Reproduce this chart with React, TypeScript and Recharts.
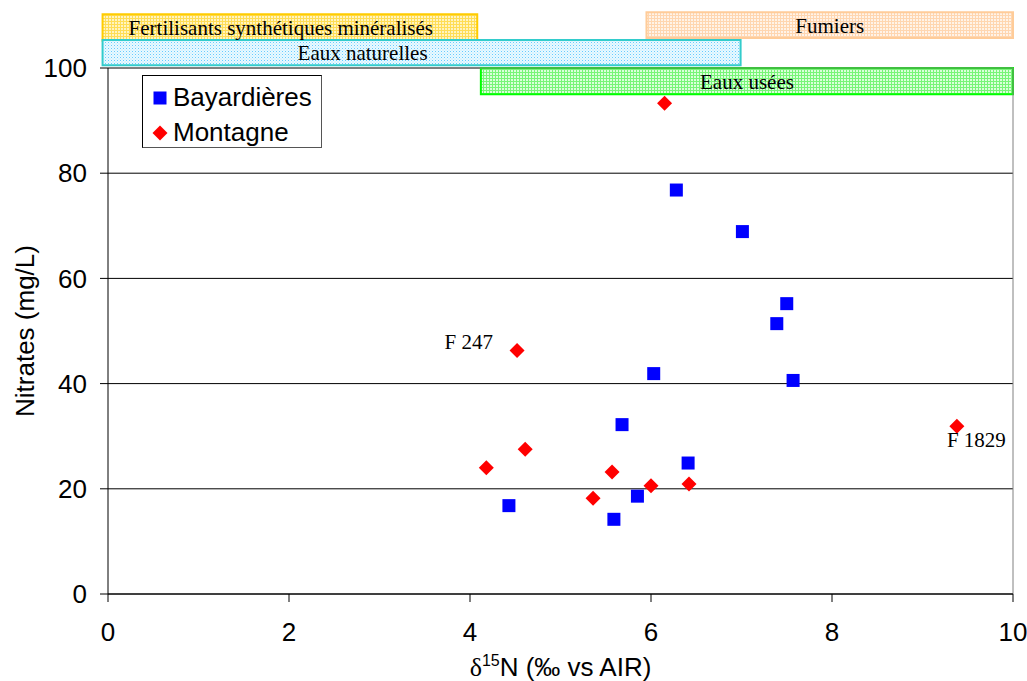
import React from 'react';
import {
  ScatterChart,
  Scatter,
  XAxis,
  YAxis,
  CartesianGrid,
  ReferenceArea,
  ReferenceLine,
  Legend,
  LabelList,
} from 'recharts';

// ---- data ----
const bayardieresX = [6.28, 7.01, 7.5, 7.39, 6.03, 7.57, 5.68, 6.41, 5.85, 4.43, 5.59];
const bayardieresY = [76.8, 68.9, 55.2, 51.4, 41.9, 40.6, 32.2, 24.9, 18.6, 16.8, 14.2];
const montagneX = [6.15, 4.52, 4.61, 4.18, 5.57, 6.0, 6.42, 5.36, 9.38];
const montagneY = [93.3, 46.3, 27.5, 24.0, 23.2, 20.6, 20.9, 18.2, 31.9];
const montagneLabels = ['', 'F 247', '', '', '', '', '', '', 'F 1829'];

const xTicks = [0, 2, 4, 6, 8, 10];
const yTicks = [0, 20, 40, 60, 80, 100];

const zoneNames = ['Fertilisants synthétiques minéralisés', 'Eaux naturelles', 'Fumiers', 'Eaux usées'];
const zoneX1 = [-0.06, -0.06, 5.95, 4.12];
const zoneX2 = [4.08, 6.99, 10.0, 10.0];
const zoneY1 = [105.2, 100.5, 105.7, 95.0];
const zoneY2 = [110.2, 105.3, 110.6, 100.0];

const bayData = bayardieresX.map((x, i) => ({ x, y: bayardieresY[i] }));
const monData = montagneX.map((x, i) => ({ x, y: montagneY[i], label: montagneLabels[i] }));

// ---- styles ----
const SANS = 'Arial, "Liberation Sans", sans-serif';
const SERIF = '"Times New Roman", "Liberation Serif", serif';

const zoneStyles = [
  { stroke: '#FFCC00', fill: 'url(#pFert)', labelPos: 'insideLeft', labelOffset: 26 },
  { stroke: '#33CCCC', fill: 'url(#pNat)', labelPos: 'insideLeft', labelOffset: 195 },
  { stroke: '#FFCC99', fill: 'url(#pFum)', labelPos: 'center', labelOffset: 0 },
  { stroke: '#00FF00', fill: 'url(#pUse)', labelPos: 'center', labelOffset: 0 },
];

const SquareShape = (props: any) => {
  const { cx, cy } = props;
  if (cx == null || cy == null) return null;
  const s = 13;
  return <rect x={cx - s / 2} y={cy - s / 2} width={s} height={s} fill="#0000FF" />;
};

const DiamondShape = (props: any) => {
  const { cx, cy } = props;
  if (cx == null || cy == null) return null;
  const r = 7.5;
  return (
    <polygon
      points={`${cx},${cy - r} ${cx + r},${cy} ${cx},${cy + r} ${cx - r},${cy}`}
      fill="#FF0000"
    />
  );
};

const AnnotationLabel = (props: any) => {
  const { x, y, width, height, value } = props;
  if (!value) return null;
  const cx = x + (width || 0) / 2;
  const cy = y + (height || 0) / 2;
  if (value === 'F 247') {
    return (
      <text x={cx - 24} y={cy - 1} textAnchor="end" fontFamily={SERIF} fontSize={21} fill="#000">
        {value}
      </text>
    );
  }
  return (
    <text x={cx - 10} y={cy + 21} textAnchor="start" fontFamily={SERIF} fontSize={21} fill="#000">
      {value}
    </text>
  );
};

const LegendContent = (props: any) => {
  const { payload } = props;
  return (
    <div
      style={{
        width: 180,
        height: 73,
        boxSizing: 'border-box',
        border: '1px solid #000',
        borderRightColor: '#555',
        borderBottomColor: '#555',
        background: '#fff',
        paddingTop: 4,
        fontFamily: SANS,
        fontSize: 26,
        color: '#000',
      }}
    >
      {(payload || []).map((entry: any, i: number) => (
        <div
          key={i}
          style={{ display: 'flex', alignItems: 'center', height: 35, lineHeight: '35px', paddingLeft: 9 }}
        >
          <svg width={16} height={16} style={{ marginRight: 5, flex: 'none' }}>
            {i === 0 ? (
              <rect x={1.5} y={1.5} width={13} height={13} fill="#0000FF" />
            ) : (
              <polygon points="8,0.5 15.5,8 8,15.5 0.5,8" fill="#FF0000" />
            )}
          </svg>
          <span>{entry.value}</span>
        </div>
      ))}
    </div>
  );
};

const YLabel = (props: any) => {
  const { viewBox } = props;
  const x = viewBox.x + 25;
  const y = viewBox.y + viewBox.height / 2;
  return (
    <text
      x={x}
      y={y}
      transform={`rotate(-90, ${x}, ${y})`}
      textAnchor="middle"
      dominantBaseline="central"
      fontFamily={SANS}
      fontSize={26}
      fill="#000"
    >
      Nitrates (mg/L)
    </text>
  );
};

const XLabel = (props: any) => {
  const { viewBox } = props;
  const x = viewBox.x + viewBox.width / 2;
  const y = viewBox.y + 82;
  return (
    <text x={x} y={y} textAnchor="middle" fontFamily={SANS} fontSize={26} fill="#000">
      <tspan fontFamily={SERIF}>δ</tspan>
      <tspan fontSize={16} dy={-10}>15</tspan>
      <tspan dy={10}>N (‰ vs AIR)</tspan>
    </text>
  );
};

export default function App() {
  return (
    <div style={{ position: 'absolute', left: 0, top: 0, width: 1027, height: 681, background: '#fff' }}>
      <ScatterChart width={1027} height={681} margin={{ top: 68, right: 14, bottom: 0, left: 0 }}>
        <defs>
          <pattern id="pFert" width="3" height="3" patternUnits="userSpaceOnUse">
            <rect width="3" height="3" fill="#FFF4C0" />
            <path d="M0 0.5H3M0.5 0V3" stroke="#FFDD55" strokeWidth="1" />
          </pattern>
          <pattern id="pNat" width="3" height="3" patternUnits="userSpaceOnUse">
            <rect width="3" height="3" fill="#EAF9FF" />
            <rect x="0" y="0" width="1" height="1" fill="#66CCFF" />
            <rect x="1.5" y="1.5" width="1" height="1" fill="#A8E6FF" />
          </pattern>
          <pattern id="pFum" width="3" height="3" patternUnits="userSpaceOnUse">
            <rect width="3" height="3" fill="#FFF3E8" />
            <path d="M0 0.5H3M0.5 0V3" stroke="#FFD6B0" strokeWidth="1" />
          </pattern>
          <pattern id="pUse" width="3" height="3" patternUnits="userSpaceOnUse">
            <rect width="3" height="3" fill="#DAFFDA" />
            <path d="M0 0.5H3M0.5 0V3" stroke="#77F577" strokeWidth="1" />
          </pattern>
        </defs>
        <CartesianGrid vertical={false} stroke="#000" strokeWidth={1} />
        <ReferenceLine y={100} stroke="#808080" strokeWidth={1} />
        <ReferenceLine x={10} stroke="#808080" strokeWidth={1} />
        <XAxis
          type="number"
          dataKey="x"
          domain={[0, 10]}
          ticks={xTicks}
          height={87}
          tickSize={8}
          tickMargin={21}
          axisLine={{ stroke: '#000' }}
          tickLine={{ stroke: '#000' }}
          tick={{ fill: '#000', fontFamily: SANS, fontSize: 26 }}
          allowDataOverflow
          label={<XLabel />}
        />
        <YAxis
          type="number"
          dataKey="y"
          domain={[0, 100]}
          ticks={yTicks}
          width={108}
          tickSize={8}
          tickMargin={13}
          axisLine={{ stroke: '#000' }}
          tickLine={{ stroke: '#000' }}
          tick={{ fill: '#000', fontFamily: SANS, fontSize: 26 }}
          allowDataOverflow
          label={<YLabel />}
        />
        {zoneNames.map((name, i) => (
          <ReferenceArea
            key={name}
            x1={zoneX1[i]}
            x2={zoneX2[i]}
            y1={zoneY1[i]}
            y2={zoneY2[i]}
            ifOverflow="visible"
            fill={zoneStyles[i].fill}
            fillOpacity={1}
            stroke={zoneStyles[i].stroke}
            strokeWidth={2}
            label={{
              value: name,
              position: zoneStyles[i].labelPos as any,
              offset: zoneStyles[i].labelOffset,
              fill: '#000',
              fontFamily: SERIF,
              fontSize: 21,
            }}
          />
        ))}
        <Scatter name="Bayardières" data={bayData} fill="#0000FF" shape={SquareShape} isAnimationActive={false} />
        <Scatter name="Montagne" data={monData} fill="#FF0000" shape={DiamondShape} isAnimationActive={false}>
          <LabelList dataKey="label" content={AnnotationLabel} />
        </Scatter>
        <Legend
          layout="horizontal"
          verticalAlign="middle"
          align="center"
          content={LegendContent}
          wrapperStyle={{ position: 'absolute', left: 142, top: 75, width: 180, height: 73 }}
        />
      </ScatterChart>
    </div>
  );
}
